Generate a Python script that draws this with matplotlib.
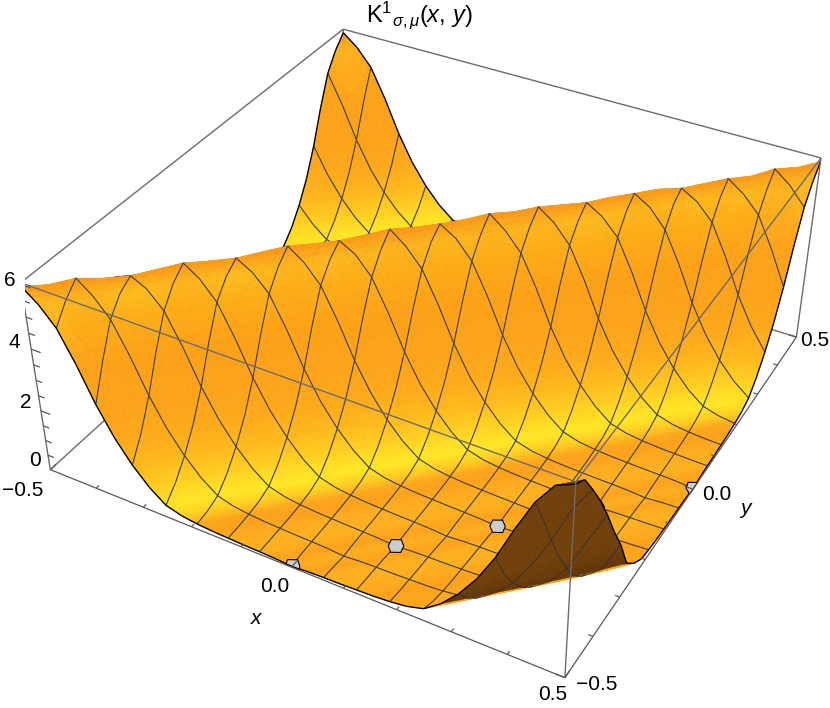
import numpy as np
import matplotlib
matplotlib.use("Agg")
import matplotlib.pyplot as plt
from mpl_toolkits.mplot3d.art3d import Poly3DCollection, Line3DCollection

plt.rcParams['font.family'] = ['Liberation Sans', 'DejaVu Sans']
plt.rcParams['mathtext.fontset'] = 'custom'
plt.rcParams['mathtext.rm'] = 'Liberation Sans'
plt.rcParams['mathtext.it'] = 'Liberation Sans:italic'

# heights, rows are x, columns are y
z_rows = [
[5.93,5.55,5,4.05,2.95,2.05,1.35,.8,.4,.25,.18,.14,.12,.1,.09,.07,.03,.07,.09,.1,.12,.14,.18,.25,.4,.8,1.35,2.05,2.95,4.05,5,5.55,5.93],
[5.55,5.87,5.55,5,4.05,2.95,2.05,1.35,.8,.4,.25,.18,.14,.12,.1,.09,.07,.03,.07,.09,.1,.12,.14,.18,.25,.4,.8,1.35,2.05,2.95,4.05,5,5.55],
[5,5.55,5.93,5.55,5,4.05,2.95,2.05,1.35,.8,.4,.25,.18,.14,.12,.1,.09,.07,.03,.07,.09,.1,.12,.14,.18,.25,.4,.8,1.35,2.05,2.95,4.05,5],
[4.05,5,5.55,5.8,5.55,5,4.05,2.95,2.05,1.35,.8,.4,.25,.18,.14,.12,.1,.09,.07,.03,.07,.09,.1,.12,.14,.18,.25,.4,.8,1.35,2.05,2.95,4.05],
[2.95,4.05,5,5.5,5.75,5.5,5,4.05,2.95,2.05,1.35,.8,.4,.25,.18,.14,.12,.1,.09,.07,.03,.07,.09,.1,.12,.14,.18,.25,.4,.8,1.35,2.05,2.95],
[2.05,2.95,4.05,5,5.5,5.82,5.55,5,4.05,2.95,2.05,1.35,.8,.4,.25,.18,.14,.12,.1,.09,.07,.03,.07,.09,.1,.12,.14,.18,.25,.4,.8,1.35,2.05],
[1.35,2.05,2.95,4.05,5,5.55,5.88,5.55,5,4.05,2.95,2.05,1.35,.8,.4,.25,.18,.14,.12,.1,.09,.07,.03,.07,.09,.1,.12,.14,.18,.25,.4,.8,1.35],
[.8,1.35,2.05,2.95,4.05,5,5.55,5.82,5.5,5,4.05,2.95,2.05,1.35,.8,.4,.25,.18,.14,.12,.1,.09,.07,.03,.07,.09,.1,.12,.14,.18,.25,.4,.8],
[.4,.8,1.35,2.05,2.95,4.05,5,5.5,5.78,5.5,5,4.05,2.95,2.05,1.35,.8,.4,.25,.18,.14,.12,.1,.09,.07,.03,.07,.09,.1,.12,.14,.18,.25,.4],
[.25,.4,.8,1.35,2.05,2.95,4.05,5,5.5,5.85,5.55,5,4.05,2.95,2.05,1.35,.8,.4,.25,.18,.14,.12,.1,.09,.07,.03,.07,.09,.1,.12,.14,.18,.25],
[.18,.25,.4,.8,1.35,2.05,2.95,4.05,5,5.55,5.9,5.55,5,4.05,2.95,2.05,1.35,.8,.4,.25,.18,.14,.12,.1,.09,.07,.03,.07,.09,.1,.12,.14,.18],
[.14,.18,.25,.4,.8,1.35,2.05,2.95,4.05,5,5.55,5.85,5.55,5,4.05,2.95,2.05,1.35,.8,.4,.25,.18,.14,.12,.1,.09,.07,.03,.07,.09,.1,.12,.14],
[.12,.14,.18,.25,.4,.8,1.35,2.05,2.95,4.05,5,5.5,5.82,5.55,5,4.05,2.95,2.05,1.35,.8,.4,.25,.18,.14,.12,.1,.09,.07,.03,.07,.09,.1,.12],
[.1,.12,.14,.18,.25,.4,.8,1.35,2.05,2.95,4.05,5,5.55,5.87,5.55,5,4.05,2.95,2.05,1.35,.8,.4,.25,.18,.14,.12,.1,.09,.07,.03,.07,.09,.1],
[.09,.1,.12,.14,.18,.25,.4,.8,1.35,2.05,2.95,4.05,5,5.55,5.93,5.55,5,4.05,2.95,2.05,1.35,.8,.4,.25,.18,.14,.12,.1,.09,.07,.03,.07,.09],
[.07,.09,.1,.12,.14,.18,.25,.4,.8,1.35,2.05,2.95,4.05,5,5.55,5.87,5.55,5,4.05,2.95,2.05,1.35,.8,.4,.25,.18,.14,.12,.1,.09,.07,.03,.07],
[.03,.07,.09,.1,.12,.14,.18,.25,.4,.8,1.35,2.05,2.95,4.05,5,5.55,5.85,5.55,5,4.05,2.95,2.05,1.35,.8,.4,.25,.18,.14,.12,.1,.09,.07,.03],
[.07,.03,.07,.09,.1,.12,.14,.18,.25,.4,.8,1.35,2.05,2.95,4.05,5,5.55,5.87,5.55,5,4.05,2.95,2.05,1.35,.8,.4,.25,.18,.14,.12,.1,.09,.07],
[.09,.07,.03,.07,.09,.1,.12,.14,.18,.25,.4,.8,1.35,2.05,2.95,4.05,5,5.55,5.93,5.55,5,4.05,2.95,2.05,1.35,.8,.4,.25,.18,.14,.12,.1,.09],
[.1,.09,.07,.03,.07,.09,.1,.12,.14,.18,.25,.4,.8,1.35,2.05,2.95,4.05,5,5.55,5.87,5.55,5,4.05,2.95,2.05,1.35,.8,.4,.25,.18,.14,.12,.1],
[.12,.1,.09,.07,.03,.07,.09,.1,.12,.14,.18,.25,.4,.8,1.35,2.05,2.95,4.05,5,5.55,5.9,5.55,5,4.05,2.95,2.05,1.35,.8,.4,.25,.18,.14,.12],
[.14,.12,.1,.09,.07,.03,.07,.09,.1,.12,.14,.18,.25,.4,.8,1.35,2.05,2.95,4.05,5,5.55,5.85,5.55,5,4.05,2.95,2.05,1.35,.8,.4,.25,.18,.14],
[.18,.14,.12,.1,.09,.07,.03,.07,.09,.1,.12,.14,.18,.25,.4,.8,1.35,2.05,2.95,4.05,5,5.5,5.8,5.5,5,4.05,2.95,2.05,1.35,.8,.4,.25,.18],
[.25,.18,.14,.12,.1,.09,.07,.03,.07,.09,.1,.12,.14,.18,.25,.4,.8,1.35,2.05,2.95,4.05,5,5.5,5.85,5.55,5,4.05,2.95,2.05,1.35,.8,.4,.25],
[.4,.25,.18,.14,.12,.1,.09,.07,.03,.07,.09,.1,.12,.14,.18,.25,.4,.8,1.35,2.05,2.95,4.05,5,5.55,5.85,5.55,5,4.05,2.95,2.05,1.35,.8,.4],
[.8,.4,.25,.18,.14,.12,.1,.09,.07,.03,.07,.09,.1,.12,.14,.18,.25,.4,.8,1.35,2.05,2.95,4.05,5,5.55,5.87,5.55,5,4.05,2.95,2.05,1.35,.8],
[1.35,.8,.4,.25,.18,.14,.12,.1,.09,.07,.03,.07,.09,.1,.12,.14,.18,.25,.4,.8,1.35,2.05,2.95,4.05,5,5.55,5.78,5.5,5,4.05,2.95,2.05,1.35],
[2.05,1.35,.8,.4,.25,.18,.14,.12,.1,.09,.07,.03,.07,.09,.1,.12,.14,.18,.25,.4,.8,1.35,2.05,2.95,4.05,5,5.5,5.82,5.55,5,4.05,2.95,2.05],
[2.95,2.05,1.35,.8,.4,.25,.18,.14,.12,.1,.09,.07,.03,.07,.09,.1,.12,.14,.18,.25,.4,.8,1.35,2.05,2.95,4.05,5,5.55,5.85,5.5,5,4.05,2.95],
[4.05,3.05,2.15,1.4,.8,.4,.25,.18,.14,.12,.1,.09,.07,.03,.07,.09,.1,.12,.14,.18,.25,.4,.8,1.35,2.05,2.95,4.05,5,5.5,5.82,5.55,5,4.05],
[5.05,4.15,3.15,2.25,1.45,.82,.42,.25,.18,.14,.12,.1,.09,.07,.03,.07,.09,.1,.12,.14,.18,.25,.4,.8,1.35,2.05,2.95,4.05,5,5.55,5.93,5.55,5],
[5.75,5.1,4.3,3.4,2.55,1.7,.85,.45,.25,.18,.14,.12,.1,.09,.07,.03,.07,.09,.1,.12,.14,.18,.25,.4,.8,1.35,2.05,2.95,4.05,5,5.55,5.87,5.55],
[5.98,5.75,5.1,4.4,3.6,2.7,1.9,.9,.5,.25,.18,.14,.12,.1,.09,.07,.03,.07,.09,.1,.12,.14,.18,.25,.4,.8,1.35,2.05,2.95,4.05,5,5.55,5.93],
]
hole_x = [0.0, 0.125, 0.25, 0.375, 0.5]
hole_y = [-0.5, -0.375, -0.25, -0.125, 0.0]
x_ticks = [-0.5, -0.4, -0.3, -0.2, -0.1, 0.0, 0.1, 0.2, 0.3, 0.4, 0.5]
z_ticks = [0.5, 1.0, 1.5, 2.0, 2.5, 3.0, 3.5, 4.0, 4.5, 5.0, 5.5, 6.0]

Z = np.array(z_rows)
n = Z.shape[0]
grid = np.linspace(-0.5, 0.5, n)
zmax = 6.05
fold = 25

# colour at each grid point, from slope and height, roughly what the lights do
gi, gj = np.gradient(Z)
slope = (np.abs(gi) + np.abs(gj)) / 2
stops = [.015, .03, .055, .11, .27, .47, .62, .8, 1.0]
vert_col = np.dstack([
    np.interp(slope, stops, [254, 253, 253, 255, 255, 255, 254, 253, 253]),
    np.interp(slope, stops, [175, 160, 165, 205, 232, 210, 185, 168, 162]),
    np.interp(slope, stops, [28, 25, 25, 32, 36, 32, 27, 25, 24]),
])
top = np.clip((Z - 5.2) / 0.7, 0, 1)[:, :, None]
vert_col = vert_col + (np.array([250, 150, 28]) - vert_col) * top
# the foot of the front bump stays orange
vert_col[np.subtract.outer(np.arange(n), np.arange(n)) >= 23] = (253, 165, 25)
under = np.clip(Z / 2, 0, 1)[:, :, None]
brown_col = np.array([82, 46, 8]) + (np.array([112, 64, 12]) - np.array([82, 46, 8])) * under


def split(tris, cols, m=3):
    # cut each facet in flat pieces so the colour runs smoothly over it
    polys, out = [], []
    for tri in tris:
        pts = np.array([(grid[i], grid[j], Z[i, j]) for i, j in tri])
        cs = np.array([cols[i, j] for i, j in tri]) / 255
        for a in range(m):
            for b in range(m - a):
                w = [np.array([a, b, m - a - b]), np.array([a + 1, b, m - a - b - 1]), np.array([a, b + 1, m - a - b - 1])]
                polys.append([v @ pts / m for v in w])
                out.append(np.mean([v @ cs / m for v in w], axis=0))
                if a + b < m - 1:
                    w = [np.array([a + 1, b + 1, m - a - b - 2]), w[1], w[2]]
                    polys.append([v @ pts / m for v in w])
                    out.append(np.mean([v @ cs / m for v in w], axis=0))
    return polys, out


back, mid, bump = [], [], []
for i in range(n - 1):
    for j in range(n - 1):
        d = i - j
        t1 = ((i, j), (i + 1, j), (i + 1, j + 1))
        t2 = ((i, j), (i, j + 1), (i + 1, j + 1))
        if d >= 0:
            (mid if d < fold else bump).append(t1)
        else:
            back.append(t1)
        if d > 0:
            (mid if d <= fold else bump).append(t2)
        else:
            back.append(t2)

segs_back, segs_mid, segs_bump = [], [], []
bnd_back, bnd_mid, bnd_bump = [], [], []
for i in range(n):
    for j in range(n):
        for di, dj in ((1, 0), (0, 1)):
            a, b = i + di, j + dj
            if a >= n or b >= n:
                continue
            line_idx = j if di else i
            if line_idx % 2:
                continue
            seg = [(grid[i], grid[j], Z[i, j]), (grid[a], grid[b], Z[a, b])]
            total = (i - j) + (a - b)
            edge = line_idx in (0, n - 1)
            if total < 0:
                (bnd_back if edge else segs_back).append(seg)
            elif total < 2 * fold:
                (bnd_mid if edge else segs_mid).append(seg)
            else:
                (bnd_bump if edge else segs_bump).append(seg)

fig = plt.figure(figsize=(8.3, 7.08), dpi=100)
W = 808.0
left, bottom = 25.0, -19.0
ax = fig.add_axes([left / 830, bottom / 708, W / 830, W / 708], projection='3d',
                  computed_zorder=False, proj_type='persp', focal_length=0.438)
ax.set_box_aspect((1, 1, 0.4))
ax.view_init(elev=36.2, azim=-60.8)
ax.set_axis_off()


def add_surface(tris, cols, zo):
    polys, out = split(tris, cols)
    ax.add_collection3d(Poly3DCollection(polys, facecolors=out, edgecolors=out, linewidths=0.35, zorder=zo))


mesh_col = (0.24, 0.24, 0.24)
def add_lines(segs, zo, lw=0.8, col=mesh_col):
    ax.add_collection3d(Line3DCollection(segs, colors=[col], linewidths=lw, zorder=zo))


lo, hi = -0.5, 0.5
box_col = (0.42, 0.42, 0.44)
# back box edges
back_edges = [[(lo, lo, 0), (lo, hi, 0)], [(lo, hi, 0), (hi, hi, 0)], [(lo, hi, 0), (lo, hi, zmax)],
              [(lo, lo, zmax), (lo, hi, zmax)], [(lo, hi, zmax), (hi, hi, zmax)]]
add_lines(back_edges, 1, 1.0, box_col)

add_surface(back, vert_col, 2)
add_lines(segs_back, 3)
add_lines(bnd_back, 3, 1.0, 'black')
add_surface(mid, vert_col, 4)
add_lines(segs_mid, 5)
add_lines(bnd_mid, 5, 1.0, 'black')

# clipped spots on the floor of the valley
ang = np.deg2rad([0, 50, 130, 180, 230, 310, 360])
e1, e2 = np.array([0.88, 0.47]), np.array([-0.47, 0.88])
for hx, hy in zip(hole_x, hole_y):
    off = 0.013 * np.outer(np.cos(ang), e1) + 0.02 * np.outer(np.sin(ang), e2)
    xs = np.clip(hx + off[:, 0], lo, hi)
    ys = np.clip(hy + off[:, 1], lo, hi)
    hole = Poly3DCollection([list(zip(xs, ys, np.full(7, 0.05)))], facecolors=[(0.8, 0.8, 0.8)],
                            edgecolors='black', linewidths=0.8, zorder=6)
    ax.add_collection3d(hole)

add_surface(bump, brown_col, 7)
add_lines(segs_bump, 8, 0.8, (0.25, 0.2, 0.15))
add_lines(bnd_bump, 8, 1.0, 'black')

# front box edges and ticks
front = [[(lo, lo, zmax), (hi, lo, zmax)], [(hi, lo, zmax), (hi, hi, zmax)], [(hi, lo, 0), (hi, lo, zmax)],
         [(lo, lo, 0), (lo, lo, zmax)], [(hi, hi, 0), (hi, hi, zmax)]]
add_lines(front, 10, 1.0, box_col)
ticks = [[(lo, lo, 0), (hi, lo, 0)], [(hi, lo, 0), (hi, hi, 0)]]
for t in x_ticks:
    size = 0.016 if t in (-0.5, 0.0, 0.5) else 0.008
    ticks.append([(t, lo, 0), (t, lo + size, 0)])
    ticks.append([(hi, t, 0), (hi - size, t, 0)])
for t in z_ticks:
    size = 0.02 if t in (2.0, 4.0, 6.0) else 0.013
    ticks.append([(lo, lo, t), (lo + size, lo, t)])
add_lines(ticks, 10, 0.9, (0.35, 0.35, 0.35))

ax.set_xlim(lo, hi, view_margin=0)
ax.set_ylim(lo, hi, view_margin=0)
ax.set_zlim(0, zmax, view_margin=0)


def label(px, py, s, size=15, **kw):
    fig.text(px / 830, 1 - py / 708, s, fontsize=size, ha='center', va='center', **kw)


label(419, 15, r'$\mathrm{K}^{1}{}_{\sigma,\mu}(x,\,y)$', size=17)
label(10, 281, '6')
label(14, 343, '4')
label(26, 403, '2')
label(35, 461, '0')
label(23, 490, '\u22120.5')
label(275, 586, '0.0')
label(553, 695, '0.5')
label(597, 684, '\u22120.5')
label(717, 494, '0.0')
label(815, 340, '0.5')
label(256, 618, 'x', style='italic')
label(745, 508, 'y', style='italic')

fig.savefig('out.png', dpi=100)
